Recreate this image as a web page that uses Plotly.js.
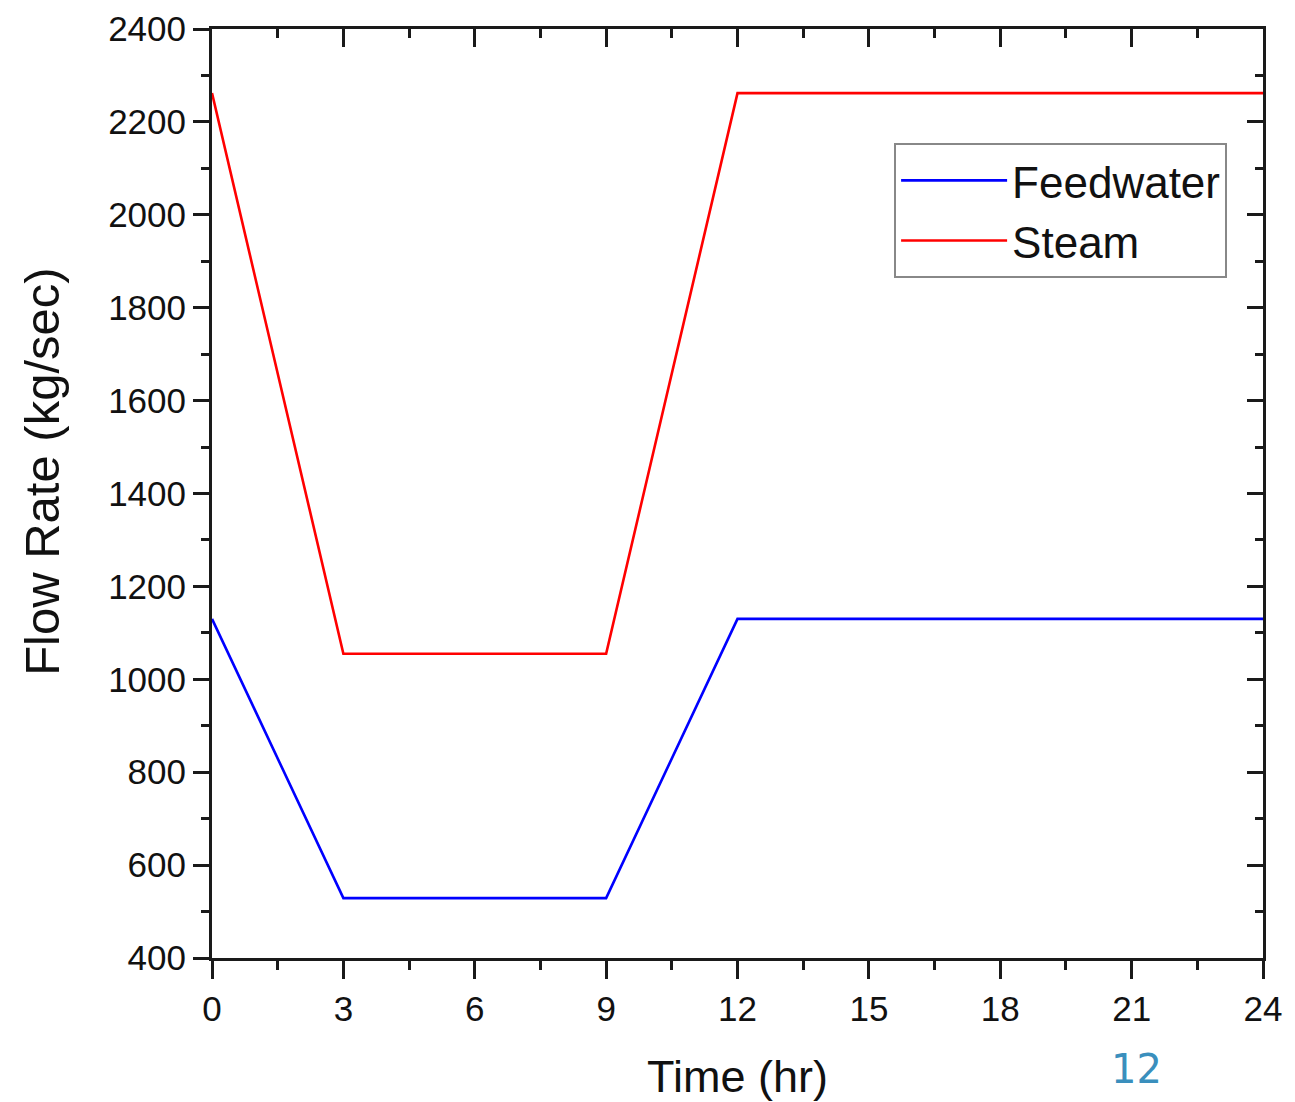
<!DOCTYPE html>
<html>
<head>
<meta charset="utf-8">
<script src="https://cdn.plot.ly/plotly-3.0.1.min.js"></script>
<style>html,body{margin:0;padding:0;background:#fff;}#chart{width:1295px;height:1102px;}</style>
</head>
<body>
<div id="chart"></div>
<script>
const timeHr = [0, 3, 9, 12, 24];
const feedwater = [1130, 529, 529, 1130, 1130];
const steam = [2262, 1055, 1055, 2262, 2262];
const seriesNames = ["Feedwater", "Steam"];
const xTicks = [0, 3, 6, 9, 12, 15, 18, 21, 24];
const yTicks = [400, 600, 800, 1000, 1200, 1400, 1600, 1800, 2000, 2200, 2400];

const FONT = "Liberation Sans, Arial, sans-serif";
const INK = "#1a1a1a";

const traces = [
  {x: timeHr, y: feedwater, name: seriesNames[0], mode: "lines", line: {color: "#0000ff", width: 2.6}},
  {x: timeHr, y: steam, name: seriesNames[1], mode: "lines", line: {color: "#ff0000", width: 2.6}},
  // carrier trace so the mirrored top/right axes (inward ticks) are drawn
  {x: timeHr, y: steam, xaxis: "x2", yaxis: "y2", mode: "lines", showlegend: false,
   hoverinfo: "skip", opacity: 0, line: {width: 0}}
];

const commonX = {
  range: [0, 24], tickvals: xTicks, showgrid: false, zeroline: false,
  linecolor: INK, linewidth: 3, tickcolor: INK, tickwidth: 3
};
const commonY = {
  range: [400, 2400], tickvals: yTicks, showgrid: false, zeroline: false,
  linecolor: INK, linewidth: 3, tickcolor: INK, tickwidth: 3
};

const layout = {
  width: 1295, height: 1102,
  margin: {l: 212, r: 32, t: 29, b: 144},
  paper_bgcolor: "#fff", plot_bgcolor: "#fff",
  font: {family: FONT, color: "#111"},
  showlegend: true,
  legend: {
    x: 0.649, y: 0.877, xanchor: "left", yanchor: "top",
    bordercolor: "#888", borderwidth: 2, bgcolor: "#fff",
    font: {size: 44, family: FONT, color: "#111"},
    itemwidth: 106, tracegroupgap: 0
  },
  xaxis: Object.assign({}, commonX, {
    ticks: "outside", ticklen: 18,
    minor: {dtick: 1.5, ticks: "outside", ticklen: 9, tickwidth: 3, tickcolor: INK, showgrid: false},
    tickfont: {size: 35, family: FONT, color: "#111"},
    title: {text: "Time (hr)", font: {size: 45, family: FONT, color: "#111"}, standoff: 34},
    anchor: "y"
  }),
  yaxis: Object.assign({}, commonY, {
    ticks: "outside", ticklen: 16,
    minor: {dtick: 100, ticks: "outside", ticklen: 8, tickwidth: 3, tickcolor: INK, showgrid: false},
    tickfont: {size: 35, family: FONT, color: "#111"},
    anchor: "x"
  }),
  xaxis2: Object.assign({}, commonX, {
    overlaying: "x", side: "top", anchor: "y2", matches: "x",
    ticks: "inside", ticklen: 18, showticklabels: false,
    minor: {dtick: 1.5, ticks: "inside", ticklen: 9, tickwidth: 3, tickcolor: INK, showgrid: false}
  }),
  yaxis2: Object.assign({}, commonY, {
    overlaying: "y", side: "right", anchor: "x2", matches: "y",
    ticks: "inside", ticklen: 16, showticklabels: false,
    minor: {dtick: 100, ticks: "inside", ticklen: 8, tickwidth: 3, tickcolor: INK, showgrid: false}
  }),
  annotations: [
    {
      text: "Flow Rate (kg/sec)", xref: "paper", yref: "paper", x: -0.162, y: 0.523,
      xanchor: "center", yanchor: "middle", textangle: -90, showarrow: false,
      font: {size: 49, family: FONT, color: "#111"}
    },
    {
      text: "12", xref: "paper", yref: "paper", x: 0.88, y: -0.12,
      xanchor: "center", yanchor: "middle", showarrow: false,
      font: {size: 40, family: "DejaVu Sans, sans-serif", color: "#3a8fbd"}
    }
  ]
};

Plotly.newPlot("chart", traces, layout, {displayModeBar: false, staticPlot: true});
</script>
</body>
</html>
